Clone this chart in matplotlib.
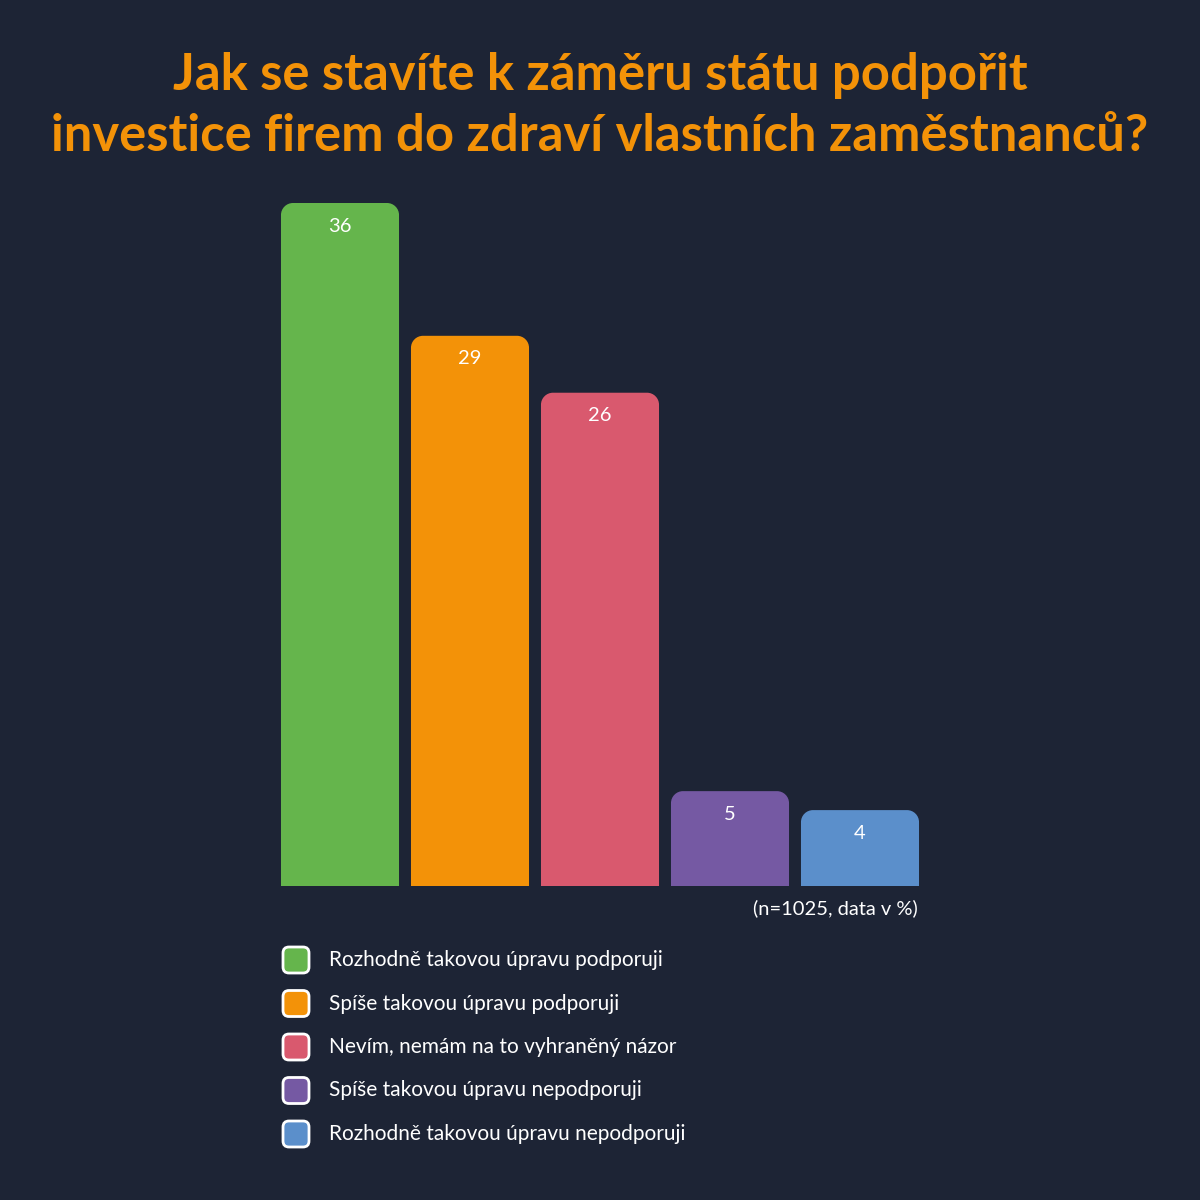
import numpy as np
import matplotlib
matplotlib.use("Agg")
import matplotlib.pyplot as plt
from matplotlib.path import Path
from matplotlib.patches import PathPatch, FancyBboxPatch

# data
categories = [
    "Rozhodně takovou úpravu podporuji",
    "Spíše takovou úpravu podporuji",
    "Nevím, nemám na to vyhraněný názor",
    "Spíše takovou úpravu nepodporuji",
    "Rozhodně takovou úpravu nepodporuji",
]
values = [36, 29, 26, 5, 4]
colors = ["#65B54C", "#F39208", "#D9596E", "#7559A3", "#5B8FCB"]
title = "Jak se stavíte k záměru státu podpořit\ninvestice firem do zdraví vlastních zaměstnanců?"
note = "(n=1025, data v %)"

bg = "#1D2435"
plt.rcParams['font.family'] = ['Lato', 'DejaVu Sans']

fig = plt.figure(figsize=(12, 12), dpi=100, facecolor=bg)

# overlay axes in pixel coords for text & legend
ov = fig.add_axes([0, 0, 1, 1])
ov.set_xlim(0, 1200)
ov.set_ylim(1200, 0)
ov.axis("off")

# bar axes
left, right, top, bottom = 275, 925, 203, 886
ax = fig.add_axes([left / 1200, 1 - bottom / 1200, (right - left) / 1200, (bottom - top) / 1200])
ax.set_facecolor("none")
ax.set_xlim(-0.5, len(values) - 0.5)
ax.set_ylim(0, max(values))
ax.axis("off")

width = 0.908
r_px = 12
px_x = (right - left) / len(values)
px_y = (bottom - top) / max(values)
rx = r_px / px_x
ry = r_px / px_y
k = 0.5523
for i, (v, c) in enumerate(zip(values, colors)):
    x0, x1 = i - width / 2, i + width / 2
    verts = [
        (x0, 0), (x0, v - ry),
        (x0, v - ry + k * ry), (x0 + rx - k * rx, v), (x0 + rx, v),
        (x1 - rx, v),
        (x1 - rx + k * rx, v), (x1, v - ry + k * ry), (x1, v - ry),
        (x1, 0), (x0, 0),
    ]
    codes = [Path.MOVETO, Path.LINETO,
             Path.CURVE4, Path.CURVE4, Path.CURVE4,
             Path.LINETO,
             Path.CURVE4, Path.CURVE4, Path.CURVE4,
             Path.LINETO, Path.CLOSEPOLY]
    ax.add_patch(PathPatch(Path(verts, codes), facecolor=c, edgecolor="none"))
    ax.text(i, v - 23 / px_y, str(v), ha="center", va="center",
            color="white", fontsize=14.5)

# title
ov.text(600, 106, title, ha="center", va="center", color="#F39208",
        fontsize=36.5, fontweight="bold", linespacing=1.36)

# note
ov.text(918, 908, note, ha="right", va="center", color="white", fontsize=14.5)

# legend
y0, dy = 960, 43.5
for j, (lab, c) in enumerate(zip(categories, colors)):
    y = y0 + j * dy
    ov.add_patch(FancyBboxPatch((283, y - 13), 26, 26,
                                boxstyle="round,pad=0,rounding_size=6",
                                facecolor=c, edgecolor="white", linewidth=2))
    ov.text(329, y, lab, ha="left", va="center", color="white", fontsize=15)

fig.savefig("out.png", dpi=100, facecolor=bg)
